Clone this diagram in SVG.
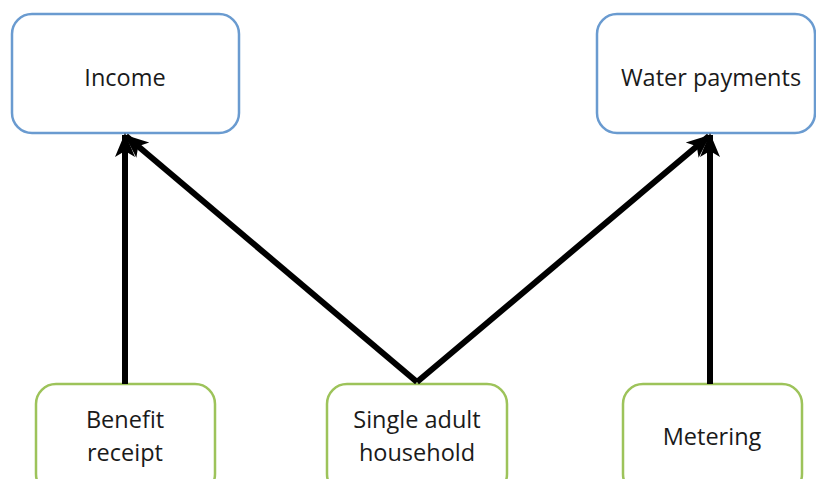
<svg xmlns="http://www.w3.org/2000/svg" width="816" height="479" viewBox="0 0 816 479">
<style>
.top{fill:#fff;stroke:#6a9bd0;stroke-width:2.5}
.bot{fill:#fff;stroke:#9dc35a;stroke-width:2.5}
text{font-family:"Open Sans","Liberation Sans",sans-serif;font-size:23.5px;fill:#1a1a1a;text-anchor:middle}
.c{stroke:#000;stroke-width:6;fill:none}
</style>
<defs>
<marker id="ah" markerUnits="userSpaceOnUse" markerWidth="26" markerHeight="26" viewBox="0 0 26 26" refX="22" refY="13" orient="auto">
<path d="M0,3 L24,13 L0,23 L6,13 Z" fill="#000"/>
</marker>
</defs>
<g id="income"><rect class="top" x="12" y="14" width="227" height="119" rx="20"/><text x="125" y="86">Income</text></g>
<g id="water"><rect class="top" x="597" y="14" width="218" height="119" rx="20"/><text x="711" y="86">Water payments</text></g>
<g id="benefit"><rect class="bot" x="36" y="384" width="179" height="110" rx="20"/><text x="125" y="428">Benefit</text><text x="125" y="461">receipt</text></g>
<g id="single"><rect class="bot" x="327" y="384" width="180" height="110" rx="20"/><text x="417" y="428">Single adult</text><text x="417" y="461">household</text></g>
<g id="metering"><rect class="bot" x="623" y="384" width="179" height="110" rx="20"/><text x="712" y="445">Metering</text></g>
<g id="connectors">
<line class="c" x1="125" y1="384" x2="125" y2="135" marker-end="url(#ah)"/>
<line class="c" x1="417" y1="382" x2="126" y2="136" marker-end="url(#ah)"/>
<line class="c" x1="417" y1="382" x2="709" y2="136" marker-end="url(#ah)"/>
<line class="c" x1="710" y1="384" x2="710" y2="135" marker-end="url(#ah)"/>
</g>
</svg>
